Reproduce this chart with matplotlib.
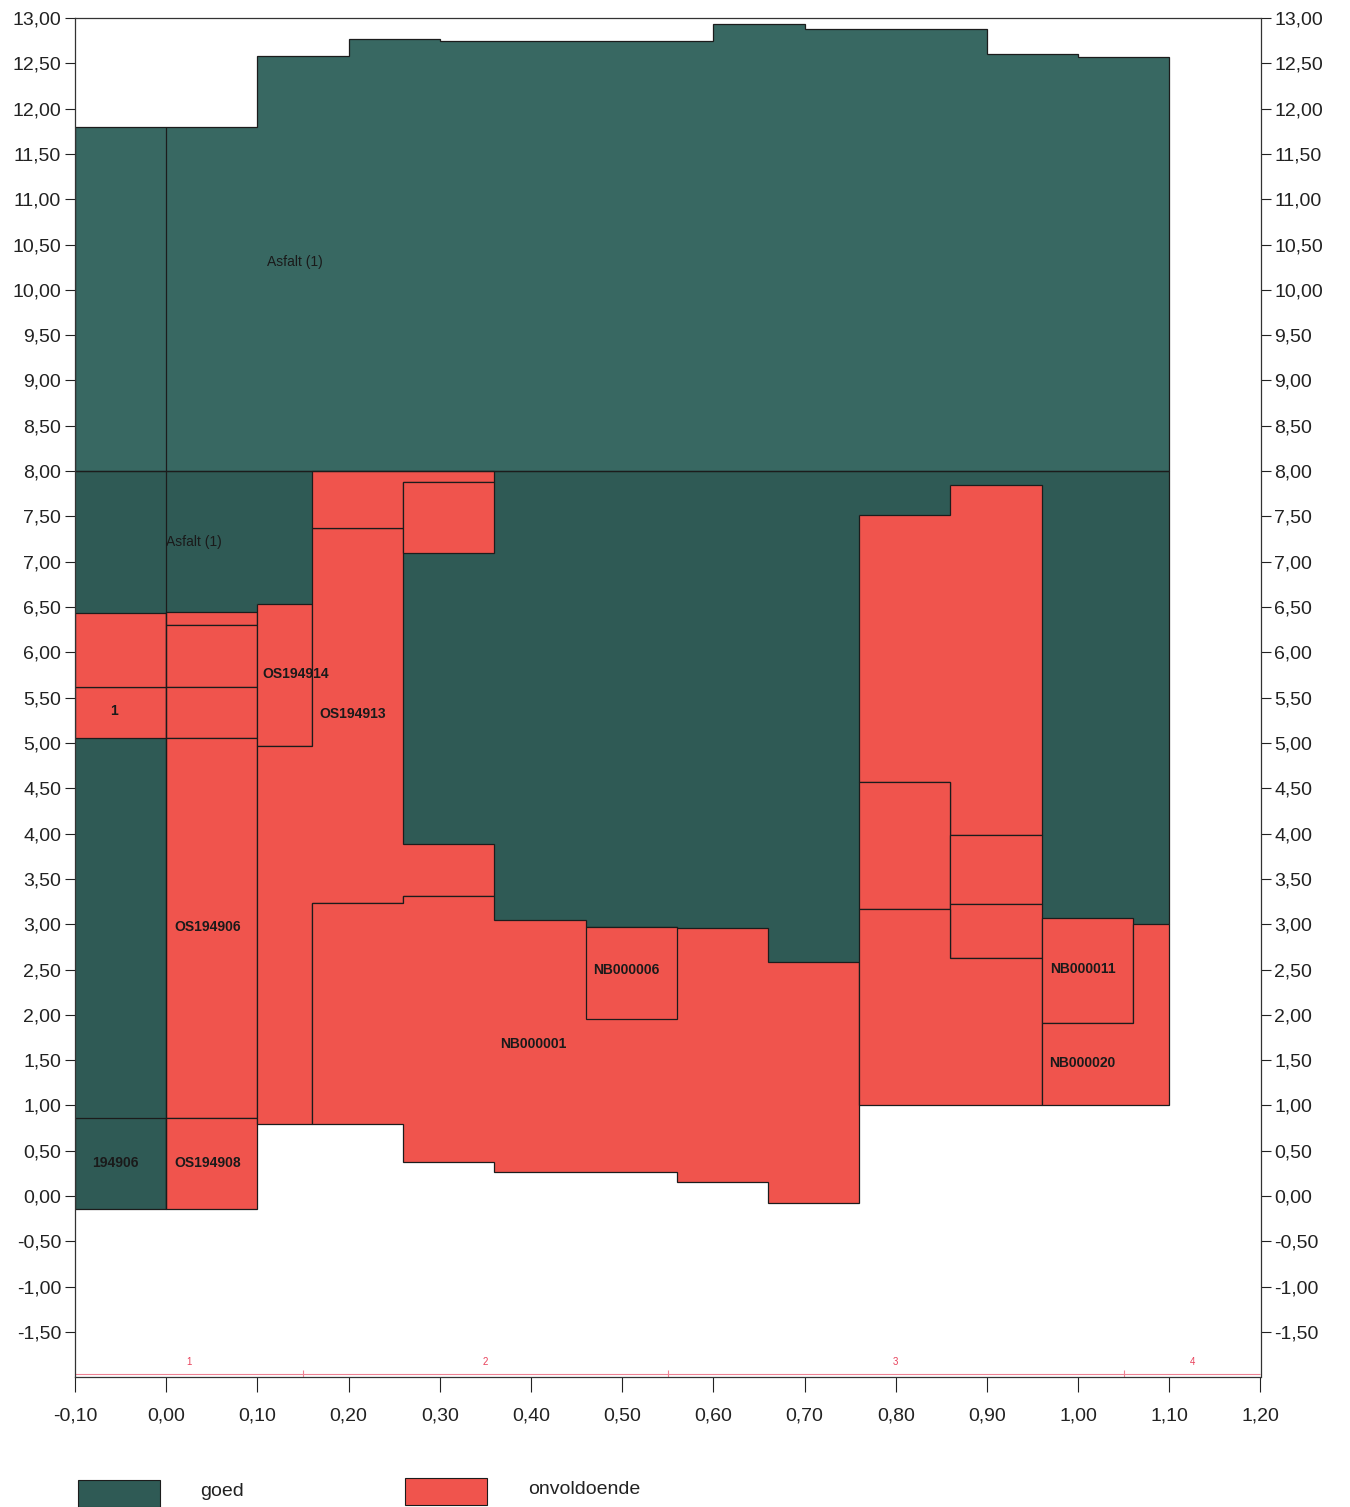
import matplotlib.pyplot as plt
from matplotlib.patches import Polygon, Rectangle
from matplotlib.ticker import FuncFormatter

plt.rcParams['font.family'] = ['Liberation Sans', 'DejaVu Sans']

GOED = '#2f5a55'
GOED_BOVEN = '#386862'
ONVOLDOENDE = '#f0544d'
LIJN = '#1c1c1c'

# bovenste asfaltlaag (goed), van 8,00 tot bovenkant
x_boven = [-0.10, 0.10, 0.20, 0.30, 0.60, 0.70, 0.90, 1.00, 1.10]
top_boven = [11.80, 12.58, 12.77, 12.75, 12.93, 12.88, 12.60, 12.57]
laaggrens = 8.00

# onderste asfaltlaag (goed): kolommen en zichtbare onderkant
x_kol = [-0.10, 0.00, 0.10, 0.16, 0.26, 0.36, 0.46, 0.56, 0.66, 0.76, 0.86, 0.96, 1.06, 1.10]
onder_goed = [0.86, 6.44, 6.53, 8.00, 3.88, 3.05, 2.97, 2.96, 2.58, 7.51, 7.85, 3.07, 3.00]

# losse vakken: (x-grenzen, onderkant, bovenkant, label, labelpositie)
goed_vakken = [
    ([-0.10, 0.00], [-0.14], [0.86], '194906', (-0.056, 0.36)),
]

onv_vakken = [
    ([-0.10, 0.00], [5.05], [5.62], '1', (-0.057, 5.35)),
    ([-0.10, 0.00], [5.62], [6.43], '', None),
    ([0.00, 0.10], [6.30], [6.44], '', None),
    ([0.00, 0.10], [5.62], [6.30], '', None),
    ([0.00, 0.10], [5.05], [5.62], '', None),
    ([0.00, 0.10], [0.86], [5.05], 'OS194906', (0.045, 2.97)),
    ([0.00, 0.10], [-0.14], [0.86], 'OS194908', (0.045, 0.37)),
    ([0.10, 0.16], [4.97], [6.53], 'OS194914', (0.142, 5.76)),
    ([0.10, 0.16, 0.26, 0.36], [0.80, 3.23, 3.31], [4.97, 7.37, 3.88], 'OS194913', (0.204, 5.32)),
    ([0.16, 0.26, 0.36], [7.37, 7.88], [8.00, 8.00], '', None),
    ([0.26, 0.36], [7.10], [7.88], '', None),
    ([0.16, 0.26, 0.36, 0.46, 0.56, 0.66, 0.76],
     [0.80, 0.38, 0.27, 0.26, 0.16, -0.08],
     [3.23, 3.31, 3.05, 2.97, 2.96, 2.58], 'NB000001', (0.403, 1.68)),
    ([0.46, 0.56], [1.95], [2.97], 'NB000006', (0.505, 2.50)),
    ([0.76, 0.86, 0.96], [4.57, 3.98], [7.51, 7.85], '', None),
    ([0.76, 0.86], [3.17], [4.57], '', None),
    ([0.86, 0.96], [3.22], [3.98], '', None),
    ([0.86, 0.96], [2.63], [3.22], '', None),
    ([0.76, 0.86, 0.96], [1.01, 1.01], [3.17, 2.63], '', None),
    ([0.96, 1.06], [1.91], [3.07], 'NB000011', (1.005, 2.51)),
    ([0.96, 1.06, 1.10], [1.01, 1.01], [1.91, 3.00], 'NB000020', (1.005, 1.47)),
]

asfalt_labels = [('Asfalt (1)', 0.141, 10.31), ('Asfalt (1)', 0.030, 7.22)]

# vakindeling onderaan
vak_grenzen = [-0.10, 0.15, 0.55, 1.05, 1.20]
vak_namen = ['1', '2', '3', '4']


def trap(xs, onder, boven):
    pts = []
    for i, t in enumerate(boven):
        pts += [(xs[i], t), (xs[i + 1], t)]
    for i in range(len(onder) - 1, -1, -1):
        pts += [(xs[i + 1], onder[i]), (xs[i], onder[i])]
    return pts


fig = plt.figure(figsize=(13.5, 15.07), dpi=100)
ax = fig.add_axes([75 / 1350, 0.08607, 1185.5 / 1350, 0.90199])

ax.add_patch(Polygon(trap(x_kol, onder_goed, [laaggrens] * len(onder_goed)),
                     closed=True, facecolor=GOED, edgecolor='none'))
ax.add_patch(Polygon(trap(x_boven, [laaggrens] * len(top_boven), top_boven),
                     closed=True, facecolor=GOED_BOVEN, edgecolor=LIJN, lw=0.9))
ax.hlines(laaggrens, x_kol[0], x_kol[-1], color=LIJN, lw=0.9)

for xs, on, bo, lab, pos in goed_vakken:
    ax.add_patch(Polygon(trap(xs, on, bo), closed=True, facecolor=GOED,
                         edgecolor=LIJN, lw=0.9))
    if lab:
        ax.text(pos[0], pos[1], lab, ha='center', va='center', fontsize=10,
                fontweight='bold', color='#1a1a1a')

ax.vlines(x_kol[1], -0.14, top_boven[0], color=LIJN, lw=0.9)
ax.vlines(x_kol[-1], 3.00, laaggrens, color=LIJN, lw=0.9)

for xs, on, bo, lab, pos in onv_vakken:
    ax.add_patch(Polygon(trap(xs, on, bo), closed=True, facecolor=ONVOLDOENDE,
                         edgecolor=LIJN, lw=0.9))
    if lab:
        ax.text(pos[0], pos[1], lab, ha='center', va='center', fontsize=10,
                fontweight='bold', color='#1a1a1a')

for lab, x, y in asfalt_labels:
    ax.text(x, y, lab, ha='center', va='center', fontsize=10, color='#1a1a1a')

# roze vaklijn
ax.hlines(-1.96, vak_grenzen[0], vak_grenzen[-1], color='#ee8294', lw=0.8)
ax.vlines(vak_grenzen[1:-1], -2.0, -1.92, color='#ee8294', lw=0.8)
for i, naam in enumerate(vak_namen):
    xm = (vak_grenzen[i] + vak_grenzen[i + 1]) / 2
    ax.text(xm, -1.83, naam, ha='center', va='center', fontsize=7, color='#e8405a')

ax.set_xlim(-0.10, 1.20)
ax.set_ylim(-2.0, 13.0)
ax.set_xticks([x / 100 for x in range(-10, 121, 10)])
ax.set_yticks([y / 100 for y in range(-150, 1301, 50)])
fmt = FuncFormatter(lambda v, p: f'{v:.2f}'.replace('.', ','))
ax.xaxis.set_major_formatter(fmt)
ax.yaxis.set_major_formatter(fmt)
ax.tick_params(axis='y', left=True, right=True, labelleft=True, labelright=True,
               length=7, width=0.8, labelsize=14, pad=3, colors='#222222')
ax.tick_params(axis='x', length=11, width=0.8, labelsize=14, pad=11, colors='#222222')
for s in ax.spines.values():
    s.set_linewidth(0.9)
    s.set_color('#333333')

# legenda
fig.add_artist(Rectangle((78 / 1350, 0.0), 82 / 1350, 27 / 1507,
                         transform=fig.transFigure, facecolor=GOED, edgecolor=LIJN, lw=0.8))
fig.text(200 / 1350, 1 - 1492 / 1507, 'goed', fontsize=14, va='center', color='#222222')
fig.add_artist(Rectangle((405 / 1350, 2 / 1507), 82 / 1350, 27 / 1507,
                         transform=fig.transFigure, facecolor=ONVOLDOENDE, edgecolor=LIJN, lw=0.8))
fig.text(528 / 1350, 1 - 1490 / 1507, 'onvoldoende', fontsize=14, va='center', color='#222222')

fig.savefig('out.png', dpi=100)
